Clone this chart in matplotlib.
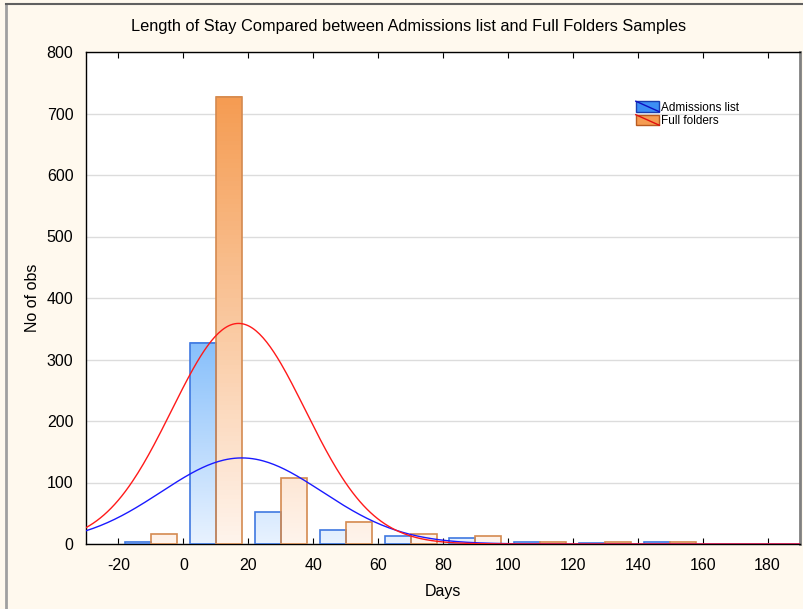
import matplotlib
matplotlib.use("Agg")
import matplotlib.pyplot as plt
import numpy as np
from matplotlib.patches import Rectangle
from matplotlib.lines import Line2D
from matplotlib.legend_handler import HandlerBase
from matplotlib.colors import LinearSegmentedColormap

plt.rcParams['font.family'] = ['Liberation Sans', 'DejaVu Sans']
plt.rcParams['axes.unicode_minus'] = False

# histogram bins (centres, days) and counts
bin_centers = [-10, 10, 30, 50, 70, 90, 110, 130, 150, 170]
admissions = [4, 327, 52, 22, 13, 9, 3, 1, 4, 0]
full_folders = [16, 727, 107, 36, 16, 13, 4, 3, 4, 0]
bin_width = 20

# fitted normal curves (mean, sd) per sample
adm_mean, adm_sd = 18.0, 24.8
ff_mean, ff_sd = 17.0, 20.6

xticks = list(range(-20, 181, 20))
yticks = list(range(0, 801, 100))

bg = '#fff9ee'

fig = plt.figure(figsize=(8.04, 6.09), dpi=100, facecolor=bg)
ax = fig.add_axes([86/804, 65/609, 714/804, 492/609])
ax.set_facecolor('white')

blue_cmap = LinearSegmentedColormap.from_list('b', ['#e8f2ff', '#88c0fb'])
orange_cmap = LinearSegmentedColormap.from_list('o', ['#fff4ec', '#f59c52'])

def draw_bars(xs, hs, cmap, edge, offset):
    top = max(hs)
    for x, h in zip(xs, hs):
        if h <= 0:
            continue
        x0 = x + offset - 4
        grad = np.linspace(0, h / top, 100).reshape(-1, 1)
        ax.imshow(grad, extent=(x0, x0 + 8, 0, h), origin='lower', aspect='auto',
                  cmap=cmap, vmin=0, vmax=1, zorder=2)
        ax.add_patch(Rectangle((x0, 0), 8, h, fill=False, edgecolor=edge, lw=1.2, zorder=3))

draw_bars(bin_centers, admissions, blue_cmap, '#3f78e0', -4)
draw_bars(bin_centers, full_folders, orange_cmap, '#d48a50', 4)

xs = np.linspace(-30, 190, 400)
def normal_curve(n, mu, sd):
    return n * bin_width / (sd * np.sqrt(2 * np.pi)) * np.exp(-(xs - mu) ** 2 / (2 * sd ** 2))

ax.plot(xs, normal_curve(sum(admissions), adm_mean, adm_sd), color='#1a1aff', lw=1, zorder=4)
ax.plot(xs, normal_curve(sum(full_folders), ff_mean, ff_sd), color='#ff1a1a', lw=1, zorder=4)

ax.set_xlim(-30, 190)
ax.set_ylim(0, 800)
ax.set_xticks(xticks)
ax.set_yticks(yticks)
ax.grid(axis='y', color='#dcdcdc', lw=1, zorder=0)
ax.set_axisbelow(True)
ax.tick_params(axis='x', direction='in', top=True, length=4, labelsize=11.5, pad=10)
ax.tick_params(axis='y', length=0, labelsize=11.5, pad=9)
for s in ax.spines.values():
    s.set_color('black')
    s.set_linewidth(1)
ax.spines['right'].set_color('#808080')
ax.spines['right'].set_linewidth(2)

ax.set_xlabel('Days', fontsize=11.5, labelpad=8)
ax.set_ylabel('No of obs', fontsize=11.5, labelpad=5)
fig.text(409 / 804, 1 - 27 / 609, 'Length of Stay Compared between Admissions list and Full Folders Samples',
         ha='center', va='center', fontsize=11.8)


class DiagHandler(HandlerBase):
    def __init__(self, face, edge, line):
        super().__init__()
        self.face, self.edge, self.line = face, edge, line

    def create_artists(self, legend, orig_handle, xd, yd, w, h, fontsize, trans):
        r = Rectangle((-xd, -yd), w, h, facecolor=self.face, edgecolor=self.edge, lw=1, transform=trans)
        l = Line2D([-xd, -xd + w], [-yd + h, -yd], color=self.line, lw=1, transform=trans)
        return [r, l]

h1 = Rectangle((0, 0), 1, 1)
h2 = Rectangle((0, 0), 1, 1)
ax.legend([h1, h2], ['Admissions list', 'Full folders'],
          handler_map={h1: DiagHandler('#3d8ef5', '#1a3fb0', '#1010c0'),
                       h2: DiagHandler('#f59c52', '#b85a20', '#e01010')},
          loc='upper left', bbox_to_anchor=(0.77, 0.90), frameon=False, fontsize=8.5,
          handlelength=2.0, handleheight=1.0, handletextpad=0.1, labelspacing=0.1,
          borderpad=0, borderaxespad=0)

# outer frame lines
fig.add_artist(Line2D([6 / 804, 6 / 804], [0, 1 - 4 / 609], color='#a0a0a0', lw=2))
fig.add_artist(Line2D([6 / 804, 1], [1 - 4 / 609, 1 - 4 / 609], color='#606060', lw=1.5))

fig.savefig('out.png', dpi=100, facecolor=bg)
